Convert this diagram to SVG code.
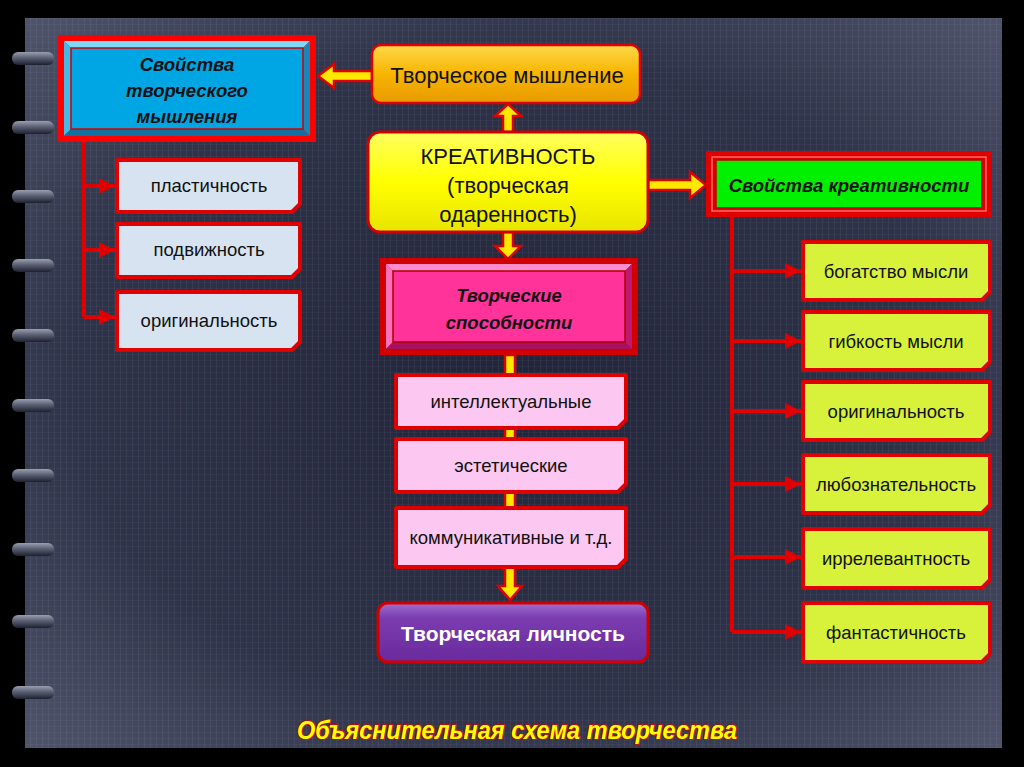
<svg xmlns="http://www.w3.org/2000/svg" width="1024" height="767" viewBox="0 0 1024 767">
<defs>
<radialGradient id="bg" cx="0.5" cy="0.5" r="0.75">
<stop offset="0" stop-color="#22253a"/>
<stop offset="0.6" stop-color="#2f3349"/>
<stop offset="1" stop-color="#555a72"/>
</radialGradient>
<pattern id="grid" width="6" height="6" patternUnits="userSpaceOnUse">
<rect width="6" height="6" fill="none"/>
<line x1="0.5" y1="0" x2="0.5" y2="6" stroke="#ffffff" stroke-opacity="0.05"/>
<line x1="0" y1="0.5" x2="6" y2="0.5" stroke="#ffffff" stroke-opacity="0.03"/>
</pattern>
<linearGradient id="ring" x1="0" y1="0" x2="0" y2="1">
<stop offset="0" stop-color="#9a9eb0"/>
<stop offset="0.45" stop-color="#5b5f72"/>
<stop offset="1" stop-color="#1e2030"/>
</linearGradient>
<linearGradient id="orange" x1="0" y1="0" x2="0" y2="1">
<stop offset="0" stop-color="#ffd84a"/>
<stop offset="0.5" stop-color="#f7b500"/>
<stop offset="1" stop-color="#e89a00"/>
</linearGradient>
<linearGradient id="yellow" x1="0" y1="0" x2="0" y2="1">
<stop offset="0" stop-color="#ffff60"/>
<stop offset="0.5" stop-color="#ffff00"/>
<stop offset="1" stop-color="#e8e400"/>
</linearGradient>
<linearGradient id="purple" x1="0" y1="0" x2="0" y2="1">
<stop offset="0" stop-color="#a070d0"/>
<stop offset="0.25" stop-color="#7a3cb0"/>
<stop offset="1" stop-color="#6a2a9c"/>
</linearGradient>
<marker id="ah" viewBox="0 0 10 10" refX="10" refY="5" markerWidth="4" markerHeight="4" orient="auto" markerUnits="strokeWidth">
<path d="M0,0 L10,5 L0,10 z" fill="#e00000"/>
</marker>
<style>
.lbl{font-family:"Liberation Sans",Arial,sans-serif;font-size:18.5px;fill:#111;text-anchor:middle;}
.bi{font-family:"Liberation Sans",Arial,sans-serif;font-size:18.5px;font-weight:bold;font-style:italic;fill:#111;text-anchor:middle;}
.big{font-family:"Liberation Sans",Arial,sans-serif;font-size:22px;fill:#111;text-anchor:middle;}
.conn{stroke:#e00000;stroke-width:4;fill:none;}
.fat{fill:#ffe800;stroke:#e00000;stroke-width:2.5;stroke-linejoin:miter;}
.note{stroke:#e00000;stroke-width:4;stroke-linejoin:round;}
.blue{fill:#d7e3f1;}
.lime{fill:#d8f23c;}
.pink{fill:#fcc8f2;}
</style>
</defs>
<rect width="1024" height="767" fill="#000"/>
<rect x="25" y="18" width="977" height="730" fill="url(#bg)"/>
<rect x="25" y="18" width="977" height="730" fill="url(#grid)"/>
<g id="rings">
<rect x="12" y="52" width="42" height="13" rx="6" fill="url(#ring)"/>
<rect x="12" y="121" width="42" height="13" rx="6" fill="url(#ring)"/>
<rect x="12" y="190" width="42" height="13" rx="6" fill="url(#ring)"/>
<rect x="12" y="259" width="42" height="13" rx="6" fill="url(#ring)"/>
<rect x="12" y="329" width="42" height="13" rx="6" fill="url(#ring)"/>
<rect x="12" y="399" width="42" height="13" rx="6" fill="url(#ring)"/>
<rect x="12" y="469" width="42" height="13" rx="6" fill="url(#ring)"/>
<rect x="12" y="543" width="42" height="13" rx="6" fill="url(#ring)"/>
<rect x="12" y="615" width="42" height="13" rx="6" fill="url(#ring)"/>
<rect x="12" y="686" width="42" height="13" rx="6" fill="url(#ring)"/>
</g>
<g id="connectors">
<path class="conn" d="M84,142 V317"/>
<path class="conn" d="M84,186 H115" marker-end="url(#ah)"/>
<path class="conn" d="M84,250 H115" marker-end="url(#ah)"/>
<path class="conn" d="M84,317 H115" marker-end="url(#ah)"/>
<path class="conn" d="M732,217 V632"/>
<path class="conn" d="M732,271 H801" marker-end="url(#ah)"/>
<path class="conn" d="M732,341 H801" marker-end="url(#ah)"/>
<path class="conn" d="M732,411 H801" marker-end="url(#ah)"/>
<path class="conn" d="M732,484 H801" marker-end="url(#ah)"/>
<path class="conn" d="M732,557 H801" marker-end="url(#ah)"/>
<path class="conn" d="M732,632 H801" marker-end="url(#ah)"/>
<polygon class="fat" points="372,71 334,71 334,64 318,76 334,88 334,81 372,81"/>
<polygon class="fat" points="503,132 503,116 495,116 508,104 521,116 513,116 513,132"/>
<polygon class="fat" points="503,232 503,246 495,246 508,259 521,246 513,246 513,232"/>
<polygon class="fat" points="648,180 690,180 690,172 706,185 690,198 690,190 648,190"/>
<polygon class="fat" points="505,355 505,586 498,586 510,600 522,586 515,586 515,355"/>
</g>
<g id="n-svoystva-myshl">
<rect x="58" y="35" width="258" height="107" fill="#ff0000"/>
<polygon points="64,41 310,41 303,48 71,48" fill="#7fd8f6"/>
<polygon points="64,41 71,48 71,129 64,136" fill="#45b8e6"/>
<polygon points="310,41 310,136 303,129 303,48" fill="#1886b8"/>
<polygon points="64,136 71,129 303,129 310,136" fill="#1070a0"/>
<rect x="71" y="48" width="232" height="81" fill="#00a6e4" stroke="#d00000" stroke-width="1.5"/>
<text class="bi" x="187" y="71">Свойства</text>
<text class="bi" x="187" y="97">творческого</text>
<text class="bi" x="187" y="123">мышления</text>
</g>
<g id="n-plast">
<path class="note blue" d="M117,160 H300 V204 L292,212 H117 Z"/>
<text class="lbl" x="209" y="192">пластичность</text>
</g>
<g id="n-podv">
<path class="note blue" d="M117,224 H300 V269 L292,277 H117 Z"/>
<text class="lbl" x="209" y="256">подвижность</text>
</g>
<g id="n-orig1">
<path class="note blue" d="M117,292 H300 V342 L292,350 H117 Z"/>
<text class="lbl" x="209" y="327">оригинальность</text>
</g>
<g id="n-tv-myshl">
<rect x="372" y="45" width="268" height="58" rx="9" fill="url(#orange)" stroke="#e00000" stroke-width="2.5"/>
<text class="big" x="507" y="83">Творческое мышление</text>
</g>
<g id="n-kreativ">
<rect x="368" y="132" width="280" height="100" rx="12" fill="url(#yellow)" stroke="#d00000" stroke-width="3"/>
<text class="big" x="508" y="164">КРЕАТИВНОСТЬ</text>
<text class="big" x="508" y="193">(творческая</text>
<text class="big" x="508" y="222">одаренность)</text>
</g>
<g id="n-svoystva-kreat">
<rect x="706" y="151" width="286" height="66" fill="#e00000"/>
<rect x="712" y="157" width="274" height="54" fill="none" stroke="#ff6a6a" stroke-width="1.5"/>
<rect x="716" y="160" width="266" height="48" fill="#00f000" stroke="#c00000" stroke-width="1.5"/>
<text class="bi" x="849" y="192">Свойства креативности</text>
</g>
<g id="n-bogat">
<path class="note lime" d="M803,242 H990 V292 L982,300 H803 Z"/>
<text class="lbl" x="896" y="278">богатство мысли</text>
</g>
<g id="n-gibk">
<path class="note lime" d="M803,312 H990 V362 L982,370 H803 Z"/>
<text class="lbl" x="896" y="348">гибкость мысли</text>
</g>
<g id="n-orig2">
<path class="note lime" d="M803,382 H990 V432 L982,440 H803 Z"/>
<text class="lbl" x="896" y="418">оригинальность</text>
</g>
<g id="n-lyuboz">
<path class="note lime" d="M803,455 H990 V505 L982,513 H803 Z"/>
<text class="lbl" x="896" y="491">любознательность</text>
</g>
<g id="n-irrel">
<path class="note lime" d="M803,529 H990 V580 L982,588 H803 Z"/>
<text class="lbl" x="896" y="565">иррелевантность</text>
</g>
<g id="n-fant">
<path class="note lime" d="M803,603 H990 V654 L982,662 H803 Z"/>
<text class="lbl" x="896" y="639">фантастичность</text>
</g>
<g id="n-sposob">
<rect x="380" y="258" width="258" height="97" fill="#d00000"/>
<polygon points="386,264 632,264 625,271 393,271" fill="#ff8ccc"/>
<polygon points="386,264 393,271 393,342 386,349" fill="#ff70bc"/>
<polygon points="632,264 632,349 625,342 625,271" fill="#c01870"/>
<polygon points="386,349 393,342 625,342 632,349" fill="#a81060"/>
<rect x="393" y="271" width="232" height="71" fill="#ff3399" stroke="#b00000" stroke-width="1.5"/>
<text class="bi" x="509" y="302">Творческие</text>
<text class="bi" x="509" y="329">способности</text>
</g>
<g id="n-intel">
<path class="note pink" d="M396,375 H626 V420 L618,428 H396 Z"/>
<text class="lbl" x="511" y="408">интеллектуальные</text>
</g>
<g id="n-estet">
<path class="note pink" d="M396,439 H626 V484 L618,492 H396 Z"/>
<text class="lbl" x="511" y="472">эстетические</text>
</g>
<g id="n-komm">
<path class="note pink" d="M396,508 H626 V559 L618,567 H396 Z"/>
<text class="lbl" x="511" y="544">коммуникативные и т.д.</text>
</g>
<g id="n-lichnost">
<rect x="378" y="603" width="270" height="59" rx="10" fill="url(#purple)" stroke="#d00000" stroke-width="3"/>
<text class="big" x="513" y="641" style="fill:#ffffff;font-weight:bold;font-size:21px">Творческая личность</text>
</g>
<text x="517" y="739" textLength="440" lengthAdjust="spacingAndGlyphs" style="font-family:'Liberation Sans',Arial,sans-serif;font-size:26px;font-weight:bold;font-style:italic;fill:#ffff00;stroke:#d00000;stroke-width:1.5;paint-order:stroke;text-anchor:middle">Объяснительная схема творчества</text>
</svg>
